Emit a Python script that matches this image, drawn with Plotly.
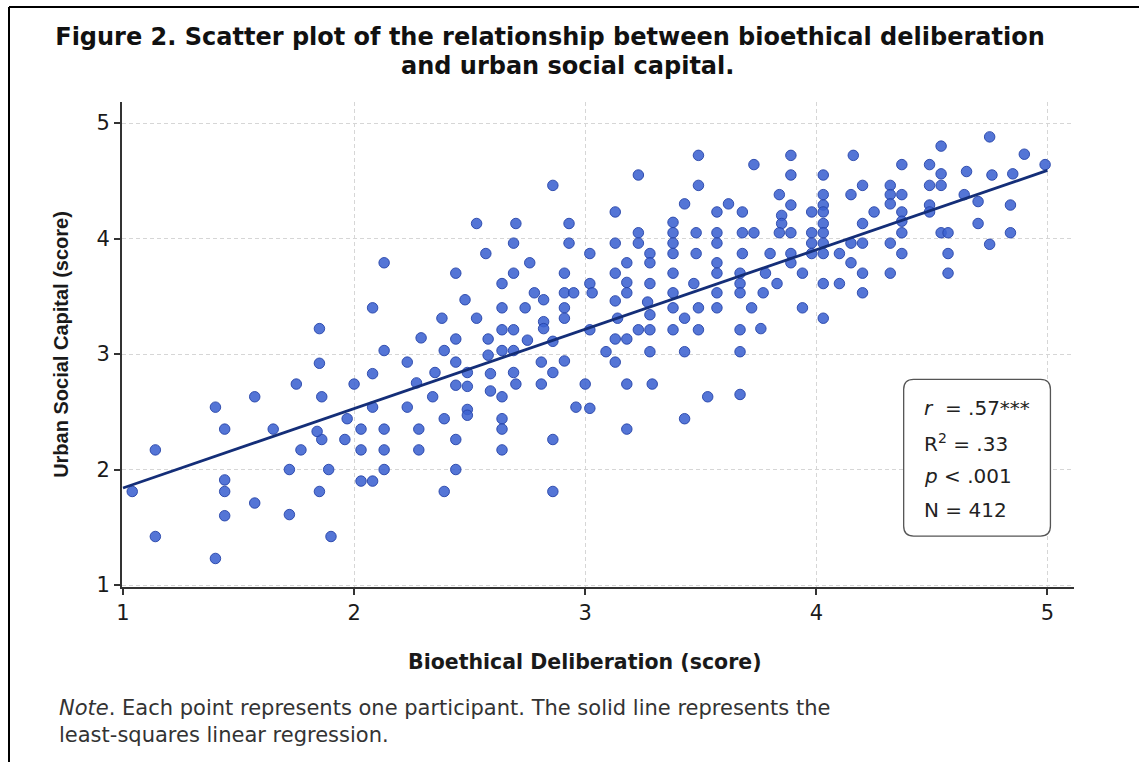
import plotly.graph_objects as go

# ---------------- data ----------------
bioethical_deliberation = [
    1.85,
    1.85, 1.75, 1.86, 1.57, 1.40, 1.44, 1.65, 1.97, 1.86, 1.84, 1.96, 1.77, 1.14, 1.72, 1.89,
    1.44, 1.44, 1.04, 1.85, 1.57, 1.44, 1.72, 1.14, 1.90, 1.40,
    2.13, 2.39, 2.64, 2.69, 2.23, 2.44, 2.58, 2.81, 2.91, 2.86, 2.08, 2.35, 2.49, 2.59, 2.69,
    2.00, 2.27, 2.44, 2.49, 2.70, 2.81, 2.59, 2.34, 2.64, 2.08, 2.23, 2.49, 2.49, 2.96, 2.39,
    2.64, 2.03, 2.13, 2.28, 2.64, 2.44, 2.86, 2.03, 2.13, 2.28, 2.64, 2.13, 2.44, 2.03, 2.08,
    2.39, 2.86,
    2.86, 2.53, 2.70, 2.93, 2.69, 2.93, 2.57, 2.13, 2.76, 2.44, 2.69, 2.91, 2.64, 2.78, 2.82,
    2.91, 2.95, 2.48, 2.08, 2.64, 2.74, 2.91, 2.91, 2.38, 2.53, 2.82, 2.82, 2.64, 2.69, 2.29,
    2.44, 2.58, 2.75, 2.86,
    3.49, 3.89, 3.73, 3.23, 3.89, 3.49, 3.84, 3.43, 3.62, 3.89, 3.13, 3.57, 3.68, 3.85, 3.38,
    3.85, 3.23, 3.38, 3.48, 3.57, 3.68, 3.73, 3.84, 3.89, 3.13, 3.23, 3.38, 3.57, 3.02, 3.28,
    3.38, 3.48, 3.68, 3.80, 3.89, 3.18, 3.28, 3.57, 3.89, 3.13, 3.38, 3.57, 3.67, 3.78, 3.94,
    3.02, 3.18, 3.28, 3.47, 3.67, 3.83, 3.03, 3.18, 3.38, 3.57, 3.67, 3.77, 3.13, 3.27, 3.38,
    3.49, 3.57, 3.72, 3.94, 3.28, 3.43, 3.14, 3.02, 3.23, 3.28, 3.38, 3.49, 3.67, 3.76, 3.13,
    3.18,
    3.09, 3.28, 3.43, 3.67, 3.13, 3.00, 3.18, 3.29, 3.53, 3.67, 3.02, 3.43, 3.18,
    4.75, 4.54, 4.16, 4.90, 4.99, 4.37, 4.49, 4.03, 4.54, 4.65, 4.76, 4.85, 4.20, 4.32, 4.49,
    4.54, 4.03, 4.15, 4.32, 4.37, 4.64, 4.03, 4.32, 4.49, 4.70, 4.84, 3.98, 4.03, 4.25, 4.37,
    4.49, 4.20, 4.03, 4.37, 4.70, 3.98, 4.03, 4.37, 4.54, 4.57, 4.84, 3.98, 4.03, 4.15, 4.20,
    4.32, 4.75, 3.98, 4.03, 4.10, 4.37, 4.57, 4.15, 4.20, 4.32, 4.57, 4.03, 4.10, 4.20, 4.03,
]
urban_social_capital = [
    3.22,
    2.92, 2.74, 2.63, 2.63, 2.54, 2.35, 2.35, 2.44, 2.26, 2.33, 2.26, 2.17, 2.17, 2.00, 2.00,
    1.91, 1.81, 1.81, 1.81, 1.71, 1.60, 1.61, 1.42, 1.42, 1.23,
    3.03, 3.03, 3.03, 3.03, 2.93, 2.93, 2.99, 2.93, 2.94, 2.84, 2.83, 2.84, 2.84, 2.83, 2.84,
    2.74, 2.75, 2.73, 2.72, 2.74, 2.74, 2.68, 2.63, 2.63, 2.54, 2.54, 2.52, 2.47, 2.54, 2.44,
    2.44, 2.35, 2.35, 2.35, 2.35, 2.26, 2.26, 2.17, 2.17, 2.17, 2.17, 2.00, 2.00, 1.90, 1.90,
    1.81, 1.81,
    4.46, 4.13, 4.13, 4.13, 3.96, 3.96, 3.87, 3.79, 3.79, 3.70, 3.70, 3.70, 3.61, 3.53, 3.47,
    3.53, 3.53, 3.47, 3.40, 3.40, 3.40, 3.40, 3.31, 3.31, 3.31, 3.28, 3.22, 3.21, 3.21, 3.14,
    3.13, 3.13, 3.12, 3.11,
    4.72, 4.72, 4.64, 4.55, 4.55, 4.46, 4.38, 4.30, 4.30, 4.29, 4.23, 4.23, 4.23, 4.20, 4.14,
    4.13, 4.05, 4.05, 4.05, 4.05, 4.05, 4.05, 4.05, 4.05, 3.96, 3.96, 3.96, 3.96, 3.87, 3.87,
    3.87, 3.87, 3.87, 3.87, 3.87, 3.79, 3.79, 3.79, 3.79, 3.70, 3.70, 3.70, 3.70, 3.70, 3.70,
    3.61, 3.62, 3.61, 3.61, 3.61, 3.61, 3.53, 3.53, 3.53, 3.53, 3.53, 3.53, 3.46, 3.45, 3.40,
    3.40, 3.40, 3.40, 3.40, 3.34, 3.31, 3.31, 3.21, 3.21, 3.21, 3.21, 3.21, 3.21, 3.22, 3.13,
    3.13,
    3.02, 3.02, 3.02, 3.02, 2.93, 2.74, 2.74, 2.74, 2.63, 2.65, 2.53, 2.44, 2.35,
    4.88, 4.80, 4.72, 4.73, 4.64, 4.64, 4.64, 4.55, 4.56, 4.58, 4.55, 4.56, 4.46, 4.46, 4.46,
    4.46, 4.38, 4.38, 4.38, 4.38, 4.38, 4.29, 4.30, 4.29, 4.32, 4.29, 4.23, 4.23, 4.23, 4.23,
    4.23, 4.13, 4.13, 4.15, 4.13, 4.05, 4.05, 4.05, 4.05, 4.05, 4.05, 3.96, 3.96, 3.96, 3.96,
    3.96, 3.95, 3.87, 3.87, 3.87, 3.87, 3.87, 3.79, 3.70, 3.70, 3.70, 3.61, 3.61, 3.53, 3.31,
]

# least-squares line as drawn in the reference (endpoints)
regression_x = [1.0, 5.0]
regression_y = [1.84, 4.59]

tick_values = [1, 2, 3, 4, 5]
tick_labels = ["1", "2", "3", "4", "5"]

stats_lines = ["<i>r</i>&nbsp;&nbsp;= .57***", "R<sup>2</sup> = .33", "<i>p</i> &lt; .001", "N = 412"]
stats_y = [2.53, 2.227, 1.94, 1.65]

title_lines = ["Figure 2. Scatter plot of the relationship between bioethical deliberation",
               "and urban social capital."]
x_title = "Bioethical Deliberation (score)"
y_title = "Urban Social Capital (score)"
note_lines = ["<i>Note</i>. Each point represents one participant. The solid line represents the",
              "least-squares linear regression."]

# ---------------- layout constants ----------------
W, H = 1139, 762
ML, MR, MT, MB = 122, 65, 102, 175
PW, PH = W - ML - MR, H - MT - MB


def px2paper_x(px):
    return (px - ML) / PW


def px2paper_y(py):
    return (H - MB - py) / PH


FONT = "DejaVu Sans"
TEXT = "#1a1a1a"

fig = go.Figure()

fig.add_trace(go.Scatter(
    x=bioethical_deliberation, y=urban_social_capital, mode="markers",
    marker=dict(size=10.5, color="rgba(60,98,208,0.88)",
                line=dict(color="rgba(38,68,168,0.9)", width=1)),
    hoverinfo="skip", showlegend=False,
))

fig.add_trace(go.Scatter(
    x=regression_x, y=regression_y, mode="lines",
    line=dict(color="#142e78", width=2.8),
    hoverinfo="skip", showlegend=False,
))

axis_common = dict(
    tickmode="array", tickvals=tick_values, ticktext=tick_labels,
    ticks="outside", ticklen=6, tickwidth=1.5, tickcolor="#333333",
    showline=True, linecolor="#333333", linewidth=2,
    showgrid=True, gridcolor="#d6d6d6", gridwidth=1, griddash="4px,3px",
    zeroline=False, tickfont=dict(family=FONT, size=21, color=TEXT),
    fixedrange=True,
)

fig.update_layout(
    width=W, height=H,
    margin=dict(l=ML, r=MR, t=MT, b=MB, pad=0),
    paper_bgcolor="white", plot_bgcolor="white",
    font=dict(family=FONT, color=TEXT),
    title=dict(text="<b>" + title_lines[0] + "</b>", xref="container", yref="container",
               x=550 / W, y=1 - 37 / H, xanchor="center", yanchor="middle",
               font=dict(family=FONT, size=24, color="#111111")),
    xaxis=dict(range=[0.9957, 5.115], **axis_common),
    yaxis=dict(range=[0.983, 5.182],
               title=dict(text="<b>" + y_title + "</b>", standoff=22,
                          font=dict(family="Liberation Sans", size=20, color=TEXT)),
               **axis_common),
    showlegend=False,
)

annotations = []
# second title line
annotations.append(dict(
    text="<b>" + title_lines[1] + "</b>", xref="paper", yref="paper",
    x=px2paper_x(567), y=px2paper_y(66), xanchor="center", yanchor="middle",
    showarrow=False, font=dict(family=FONT, size=24, color="#111111")))

# x axis title, centred under the 1-5 data span as in the reference
annotations.append(dict(
    text="<b>" + x_title + "</b>", xref="x", yref="paper",
    x=3.0, y=px2paper_y(662), xanchor="center", yanchor="middle",
    showarrow=False, font=dict(family=FONT, size=20.5, color=TEXT)))

# statistics box text
for txt, yv in zip(stats_lines, stats_y):
    annotations.append(dict(
        text=txt, xref="x", yref="y", x=4.456, y=yv,
        xanchor="left", yanchor="middle", showarrow=False,
        font=dict(family=FONT, size=20, color="#222222")))

# note
for txt, cy in zip(note_lines, [708, 735]):
    annotations.append(dict(
        text=txt, xref="paper", yref="paper",
        x=px2paper_x(57), y=px2paper_y(cy), xanchor="left", yanchor="middle",
        showarrow=False, font=dict(family=FONT, size=21, color="#333333")))

fig.update_layout(annotations=annotations)

# rounded statistics box (data coordinates), radius of ~10 px
bx0, bx1, by0, by1 = 4.378, 5.013, 1.424, 2.781
rx = 10 / (PW / (5.115 - 0.9957))
ry = 10 / (PH / (5.182 - 0.983))
box_path = (
    f"M {bx0 + rx},{by0} L {bx1 - rx},{by0} Q {bx1},{by0} {bx1},{by0 + ry} "
    f"L {bx1},{by1 - ry} Q {bx1},{by1} {bx1 - rx},{by1} "
    f"L {bx0 + rx},{by1} Q {bx0},{by1} {bx0},{by1 - ry} "
    f"L {bx0},{by0 + ry} Q {bx0},{by0} {bx0 + rx},{by0} Z"
)
shapes = [
    dict(type="path", path=box_path, xref="x", yref="y",
         line=dict(color="#555555", width=1.3), fillcolor="white", layer="above"),
    # outer frame of the figure (left and top edges)
    dict(type="line", xref="paper", yref="paper",
         x0=px2paper_x(9), x1=px2paper_x(9), y0=px2paper_y(7), y1=px2paper_y(H + 5),
         line=dict(color="black", width=2)),
    dict(type="line", xref="paper", yref="paper",
         x0=px2paper_x(9), x1=px2paper_x(W + 5), y0=px2paper_y(7), y1=px2paper_y(7),
         line=dict(color="black", width=2)),
]
fig.update_layout(shapes=shapes)

fig.write_html("out.html", config={"displayModeBar": False},
               post_script="document.body.style.margin='0';")
